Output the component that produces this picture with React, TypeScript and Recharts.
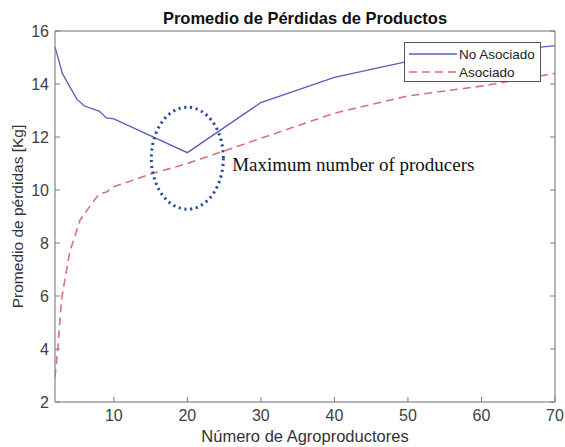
import { LineChart, Line, XAxis, YAxis, CartesianGrid, ReferenceDot, Label } from 'recharts'

// valores
const noAsocX = [2, 3, 4, 5, 6, 8, 9, 10, 20, 30, 40, 50, 60, 70]
const noAsocY = [15.4, 14.4, 13.9, 13.42, 13.17, 12.98, 12.72, 12.68, 11.41, 13.3, 14.25, 14.85, 15.15, 15.45]
const asocX = [2, 2.4, 2.9, 4, 5.4, 7, 8, 9, 10, 15, 20, 30, 40, 50, 60, 70]
const asocY = [2.94, 4.07, 5.9, 7.66, 8.86, 9.49, 9.84, 9.92, 10.12, 10.6, 11.0, 11.95, 12.9, 13.55, 13.92, 14.4]
const xTicks = [10, 20, 30, 40, 50, 60, 70]
const yTicks = [2, 4, 6, 8, 10, 12, 14, 16]
const seriesNames = ['No Asociado', 'Asociado']

const noAsocData = noAsocX.map((x, i) => ({ x, y: noAsocY[i] }))
const asocData = asocX.map((x, i) => ({ x, y: asocY[i] }))

const BLUE = '#5c5cb8'
const RED = '#d8737a'
const AXIS = '#7a7a7a'
const FONT = 'Liberation Sans, Arial'
const TICK_TEXT = { fill: '#404040', fontSize: 16, fontFamily: FONT }

// elipse punteada de la anotación
function EllipseMark({ cx, cy }: any) {
  if (cx == null || cy == null) return <g />
  return (
    <ellipse
      cx={cx}
      cy={cy}
      rx={36}
      ry={51}
      fill="none"
      stroke="#2a4aa0"
      strokeWidth={3}
      strokeDasharray="2.2 3.6"
    />
  )
}

function NoteText({ cx, cy }: any) {
  if (cx == null || cy == null) return <g />
  return (
    <text x={cx} y={cy} fontFamily="Liberation Serif, Times New Roman" fontSize={19} fill="#111" dominantBaseline="middle">
      Maximum number of producers
    </text>
  )
}

const noTick = () => <g />

export default function App() {
  return (
    <div style={{ position: 'absolute', left: 0, top: 0, width: 565, height: 447, background: '#fff' }}>
      <div
        style={{
          position: 'absolute',
          left: 55,
          width: 500,
          top: 9,
          textAlign: 'center',
          fontFamily: FONT,
          fontWeight: 'bold',
          fontSize: 16.5,
          color: '#111',
        }}
      >
        Promedio de Pérdidas de Productos
      </div>
      <LineChart width={565} height={447} margin={{ top: 30, right: 9, left: 0, bottom: 0 }}>
        <CartesianGrid stroke="#e8e8e8" strokeWidth={1} />
        <XAxis
          xAxisId="bottom"
          type="number"
          dataKey="x"
          domain={[2, 70]}
          ticks={xTicks}
          allowDataOverflow
          height={45}
          stroke={AXIS}
          tickSize={-5}
          tickMargin={13}
          tick={TICK_TEXT}
        >
          <Label
            value="Número de Agroproductores"
            position="insideBottom"
            offset={5}
            style={{ fill: '#333', fontSize: 16.5, fontFamily: FONT }}
          />
        </XAxis>
        <XAxis
          xAxisId="top"
          orientation="top"
          type="number"
          domain={[2, 70]}
          ticks={xTicks}
          allowDataOverflow
          height={1}
          stroke={AXIS}
          tickSize={-5}
          tick={noTick}
        />
        <YAxis
          yAxisId="left"
          type="number"
          domain={[2, 16]}
          ticks={yTicks}
          allowDataOverflow
          width={55}
          stroke={AXIS}
          tickSize={-5}
          tickMargin={11}
          tick={TICK_TEXT}
        >
          <Label
            value="Promedio de pérdidas [Kg]"
            angle={-90}
            position="insideLeft"
            offset={17}
            style={{ fill: '#333', fontSize: 15.5, fontFamily: FONT, textAnchor: 'middle' }}
          />
        </YAxis>
        <YAxis
          yAxisId="right"
          orientation="right"
          type="number"
          domain={[2, 16]}
          ticks={yTicks}
          allowDataOverflow
          width={1}
          stroke={AXIS}
          tickSize={-5}
          tick={noTick}
        />
        <Line
          xAxisId="bottom"
          yAxisId="left"
          data={noAsocData}
          dataKey="y"
          name={seriesNames[0]}
          type="linear"
          stroke={BLUE}
          strokeWidth={1.3}
          dot={false}
          isAnimationActive={false}
        />
        <Line
          xAxisId="bottom"
          yAxisId="left"
          data={asocData}
          dataKey="y"
          name={seriesNames[1]}
          type="linear"
          stroke={RED}
          strokeWidth={1.6}
          strokeDasharray="8 5"
          dot={false}
          isAnimationActive={false}
        />
        <ReferenceDot xAxisId="bottom" yAxisId="left" x={20} y={11.2} shape={EllipseMark} />
        <ReferenceDot xAxisId="bottom" yAxisId="left" x={26.1} y={10.9} shape={NoteText} />
      </LineChart>
      {/* leyenda estilo MATLAB */}
      <div
        style={{
          position: 'absolute',
          left: 404,
          top: 42,
          width: 137,
          height: 40,
          boxSizing: 'border-box',
          border: '1px solid #555',
          background: '#fff',
          fontFamily: FONT,
          fontSize: 13.5,
          color: '#222',
          paddingTop: 2,
        }}
      >
        {seriesNames.map((n, i) => (
          <div key={n} style={{ display: 'flex', alignItems: 'center', height: 18 }}>
            <svg width={54} height={10}>
              <line
                x1={4}
                x2={52}
                y1={5}
                y2={5}
                stroke={i === 0 ? BLUE : RED}
                strokeWidth={i === 0 ? 1.3 : 1.6}
                strokeDasharray={i === 0 ? undefined : '8 5'}
              />
            </svg>
            <span>{n}</span>
          </div>
        ))}
      </div>
    </div>
  )
}
